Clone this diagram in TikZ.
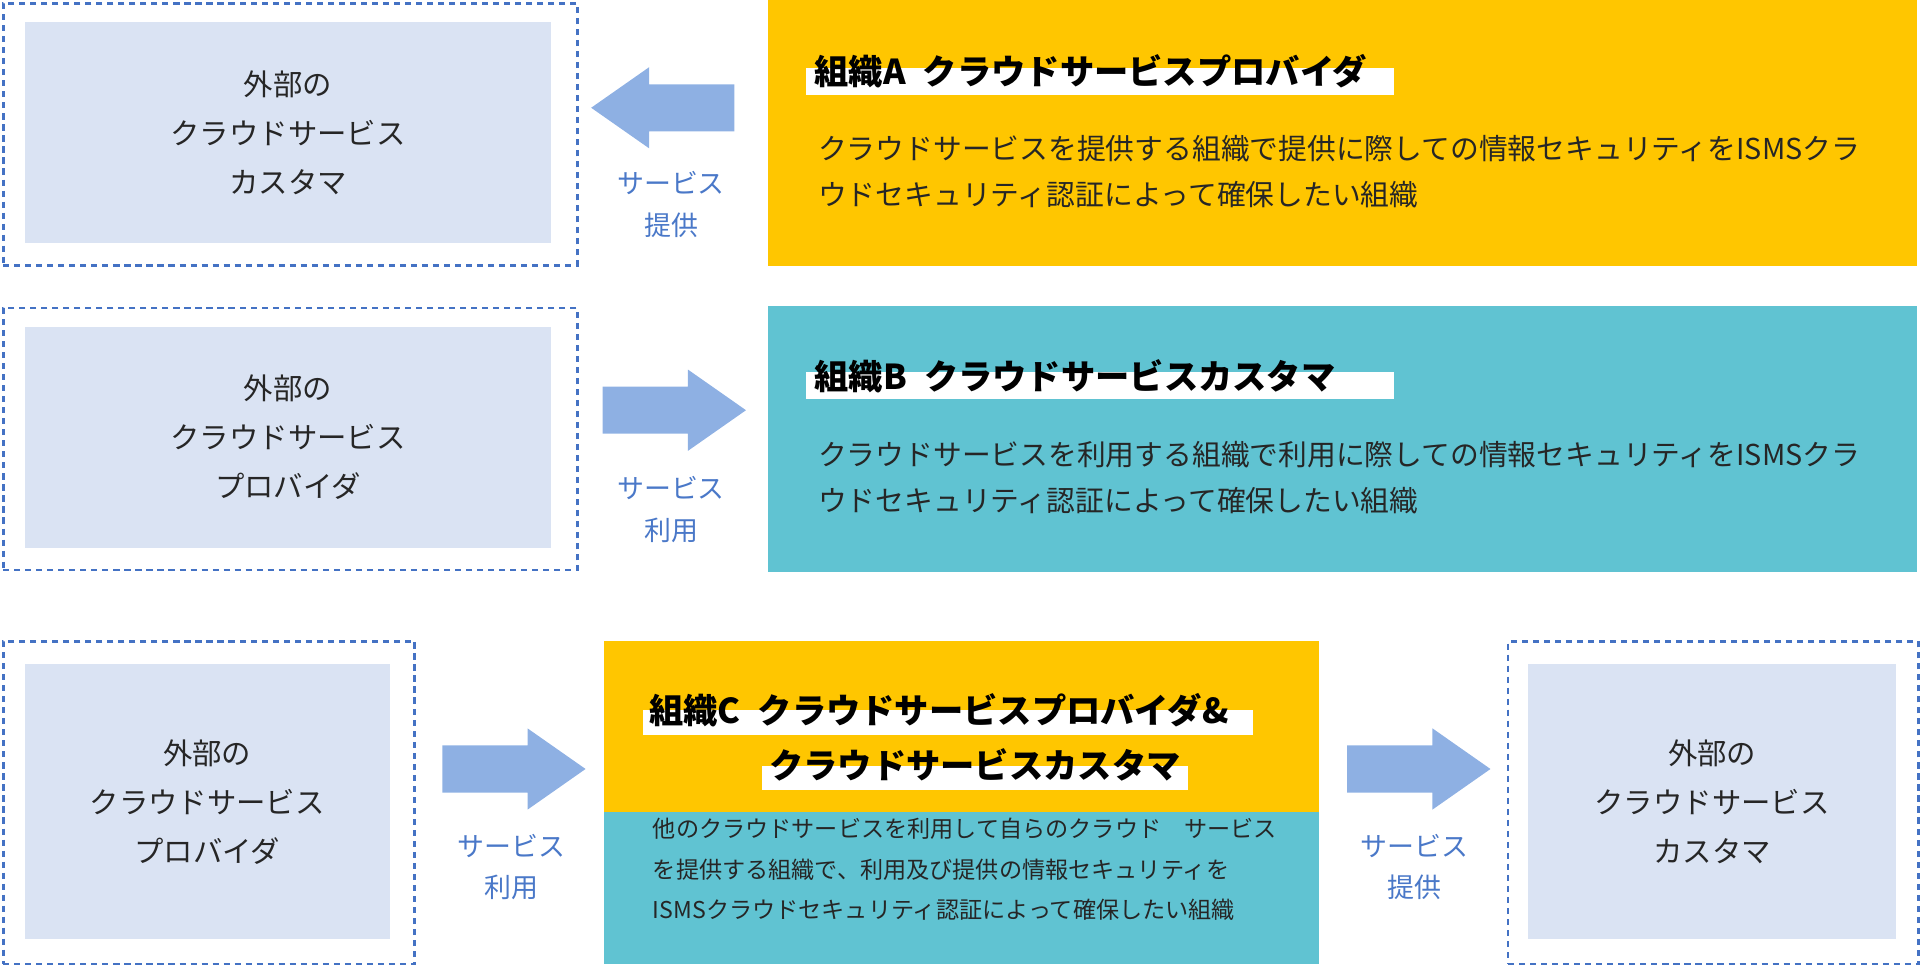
\documentclass[tikz,border=0pt]{standalone}
\usepackage{fontspec}
\setmainfont{Noto Sans CJK JP}
\usetikzlibrary{shapes.arrows}
\definecolor{yel}{HTML}{FFC600}
\definecolor{teal2}{HTML}{60C3D2}
\definecolor{light}{HTML}{DAE3F3}
\definecolor{dash}{HTML}{4472C4}
\definecolor{arr}{HTML}{8EB0E3}
\definecolor{lbl}{HTML}{4A78C8}
\begin{document}
\begin{tikzpicture}[x=1pt,y=-1pt,
 outer/.style={draw=dash,line width=2.2pt,dash pattern=on 5pt off 4pt,inner sep=0,anchor=north west},
 inner/.style={fill=light,inner sep=0,anchor=north west,align=center,font=\fontsize{24}{40}\selectfont,text=black!85},
 org/.style={inner sep=0,anchor=north west},
 arrow/.style={single arrow,fill=arr,minimum height=117pt,inner sep=19pt,single arrow head extend=14pt,single arrow tip angle=70},
 lab/.style={text=lbl,align=center,font=\fontsize{22}{34}\selectfont},
 title/.style={anchor=west,font=\bfseries\fontsize{28}{34}\selectfont,inner sep=0},
 body/.style={anchor=north west,font=\fontsize{23.5}{38}\selectfont,align=left,inner sep=0,text=black!85},
 hl/.style={fill=white,inner sep=0,anchor=north west}]
\useasboundingbox (0,0) rectangle (1568,788);
% row 1
\node[outer,minimum width=469pt,minimum height=214pt] (o1) at (1.5,1.5) {};
\node[inner,minimum width=430pt,minimum height=180pt] (i1) at (20,18) {外部の\\クラウドサービス\\カスタマ};
\node[arrow,shape border rotate=180] (a1) at (555,88) {};
\node[lab] (l1) at (548,167) {サービス\\提供};
\node[org,fill=yel,minimum width=938pt,minimum height=217pt] (A) at (627,0) {};
\node[hl,minimum width=480pt,minimum height=22pt] (hA) at (658,55) {};
\node[title] (tA) at (665,58) {組織A\hspace{0.5em}クラウドサービスプロバイダ};
\node[body] (bA) at (668,110) {クラウドサービスを提供する組織で提供に際しての情報セキュリティをISMSクラ\\ウドセキュリティ認証によって確保したい組織};
% row 2
\node[outer,minimum width=469pt,minimum height=214pt] (o2) at (1.5,250.5) {};
\node[inner,minimum width=430pt,minimum height=180pt] (i2) at (20,267) {外部の\\クラウドサービス\\プロバイダ};
\node[arrow] (a2) at (537,335) {};
\node[lab] (l2) at (548,416) {サービス\\利用};
\node[org,fill=teal2,minimum width=938pt,minimum height=217pt] (B) at (627,250) {};
\node[hl,minimum width=480pt,minimum height=22pt] (hB) at (658,304) {};
\node[title] (tB) at (665,307) {組織B\hspace{0.5em}クラウドサービスカスタマ};
\node[body] (bB) at (668,360) {クラウドサービスを利用する組織で利用に際しての情報セキュリティをISMSクラ\\ウドセキュリティ認証によって確保したい組織};
% row 3
\node[outer,minimum width=336pt,minimum height=264pt] (o3) at (1.5,522.5) {};
\node[inner,minimum width=298pt,minimum height=225pt] (i3) at (20,542) {外部の\\クラウドサービス\\プロバイダ};
\node[arrow] (a3) at (406,628) {};
\node[lab] (l3) at (418,708) {サービス\\利用};
\node[org,fill=yel,minimum width=584pt,minimum height=140pt] (C1) at (493,523) {};
\node[org,fill=teal2,minimum width=584pt,minimum height=124pt] (C2) at (493,663) {};
\node[hl,minimum width=498pt,minimum height=20pt] (hC1) at (525,580) {};
\node[hl,minimum width=348pt,minimum height=20pt] (hC2) at (622,625) {};
\node[title] (tC1) at (530,580) {組織C\hspace{0.5em}クラウドサービスプロバイダ\&};
\node[title] (tC2) at (628,625) {クラウドサービスカスタマ};
\node[body,font=\fontsize{18.9}{33}\selectfont] (bC) at (533,668) {他のクラウドサービスを利用して自らのクラウド\hspace{1em}サービス\\を提供する組織で、利用及び提供の情報セキュリティを\\ISMSクラウドセキュリティ認証によって確保したい組織};
\node[arrow] (a4) at (1145,628) {};
\node[lab] (l4) at (1155,708) {サービス\\提供};
\node[outer,minimum width=335pt,minimum height=264pt] (o4) at (1230.5,522.5) {};
\node[inner,minimum width=300pt,minimum height=225pt] (i4) at (1248,542) {外部の\\クラウドサービス\\カスタマ};
\end{tikzpicture}
\end{document}
